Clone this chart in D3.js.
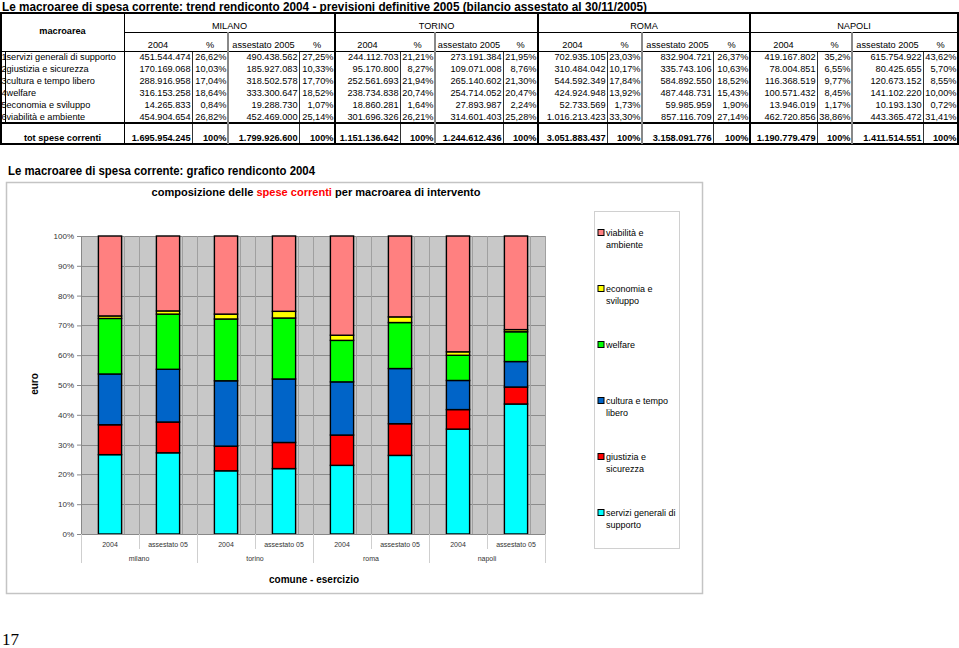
<!DOCTYPE html>
<html><head><meta charset="utf-8">
<script src="https://cdn.jsdelivr.net/npm/d3@7"></script>
<style>
html,body{margin:0;padding:0;background:#fff;}
svg{display:block;font-family:"Liberation Sans",Arial,Helvetica,sans-serif;}
</style></head>
<body>
<svg id="c" width="959" height="648"></svg>
<script>
// ---------- DATA ----------
const macroaree = ["servizi generali di supporto","giustizia e sicurezza","cultura e tempo libero","welfare","economia e sviluppo","viabilità e ambiente"];
const cities = ["MILANO","TORINO","ROMA","NAPOLI"];
const citiesLower = ["milano","torino","roma","napoli"];
const esercizi = ["2004","assestato 05"];
const tableSubHeaders = ["2004","%","assestato 2005","%"];

const milano2004 = [451544474,170169068,288916958,316153258,14265833,454904654];
const milano2005 = [490438562,185927083,318502578,333300647,19288730,452469000];
const torino2004 = [244112703,95170800,252561693,238734838,18860281,301696326];
const torino2005 = [273191384,109071008,265140602,254714052,27893987,314601403];
const roma2004   = [702935105,310484042,544592349,424924948,52733569,1016213423];
const roma2005   = [832904721,335743106,584892550,487448731,59985959,857116709];
const napoli2004 = [419167802,78004851,116368519,100571432,13946019,462720856];
const napoli2005 = [615754922,80425655,120673152,141102220,10193130,443365472];

const milanoPct2004 = ["26,62%","10,03%","17,04%","18,64%","0,84%","26,82%"];
const milanoPct2005 = ["27,25%","10,33%","17,70%","18,52%","1,07%","25,14%"];
const torinoPct2004 = ["21,21%","8,27%","21,94%","20,74%","1,64%","26,21%"];
const torinoPct2005 = ["21,95%","8,76%","21,30%","20,47%","2,24%","25,28%"];
const romaPct2004   = ["23,03%","10,17%","17,84%","13,92%","1,73%","33,30%"];
const romaPct2005   = ["26,37%","10,63%","18,52%","15,43%","1,90%","27,14%"];
const napoliPct2004 = ["35,2%","6,55%","9,77%","8,45%","1,17%","38,86%"];
const napoliPct2005 = ["43,62%","5,70%","8,55%","10,00%","0,72%","31,41%"];

const totali = [1695954245,1799926600,1151136642,1244612436,3051883437,3158091776,1190779479,1411514551];
const yTicks = [0,0.1,0.2,0.3,0.4,0.5,0.6,0.7,0.8,0.9,1];
const colors = ["#00ffff","#ff0000","#0064c8","#00ff00","#ffff00","#ff8080"];

// ---------- helpers ----------
const loc = d3.formatLocale({decimal:",",thousands:".",grouping:[3],currency:["€",""]});
const fmtNum = loc.format(",d");
const fmtPct = loc.format(".0%");
const svg = d3.select("#c");
const FONT = "\"Liberation Sans\",Arial,Helvetica,sans-serif";

function fitText(sel, w){ sel.attr("textLength", w).attr("lengthAdjust","spacingAndGlyphs"); }

// ---------- TOP TITLE ----------
svg.append("text").attr("x",2).attr("y",10.5).attr("font-size",12).attr("font-weight","bold")
  .text("Le macroaree di spesa corrente: trend rendiconto 2004 - previsioni definitive 2005 (bilancio assestato al 30/11/2005)")
  .call(fitText, 645);

// ---------- TABLE ----------
const colEdges = [1,124,192,228,299,335,400,435,503,538,607,642,713,750,817,852,923,958];
const tTop = 13, tH1 = 32, tH2 = 51, rowH = 12, tTotTop = tH2 + rowH*6, tBot = 144;
const T = svg.append("g").attr("font-size",9.2).attr("fill","#000");

const cityData = [
  [milano2004, milanoPct2004, milano2005, milanoPct2005],
  [torino2004, torinoPct2004, torino2005, torinoPct2005],
  [roma2004, romaPct2004, roma2005, romaPct2005],
  [napoli2004, napoliPct2004, napoli2005, napoliPct2005]
];

// header
T.append("text").attr("x",(colEdges[0]+colEdges[1])/2).attr("y",34).attr("text-anchor","middle")
  .attr("font-weight","bold").text("macroarea");
cities.forEach((c,i)=>{
  const x0 = colEdges[1+i*4], x1 = colEdges[5+i*4];
  T.append("text").attr("x",(x0+x1)/2).attr("y",28.5).attr("text-anchor","middle").text(c);
  tableSubHeaders.forEach((h,j)=>{
    const a = colEdges[1+i*4+j], b = colEdges[2+i*4+j];
    T.append("text").attr("x",(a+b)/2).attr("y",48).attr("text-anchor","middle").text(h);
  });
});
// rows
macroaree.forEach((m,r)=>{
  const yb = tH2 + rowH*r + 9.3;
  T.append("text").attr("x",1.5).attr("y",yb).text(r+1);
  T.append("text").attr("x",6.5).attr("y",yb).text(m);
  cityData.forEach((cd,i)=>{
    cd.forEach((arr,j)=>{
      const b = colEdges[2+i*4+j];
      const v = (j%2===0) ? fmtNum(arr[r]) : arr[r];
      T.append("text").attr("x",b-1.5).attr("y",yb).attr("text-anchor","end").text(v);
    });
  });
});
// total row
T.append("text").attr("x",(colEdges[0]+colEdges[1])/2).attr("y",tBot-3.5).attr("text-anchor","middle")
  .attr("font-weight","bold").text("tot spese correnti");
totali.forEach((t,k)=>{
  const i = Math.floor(k/2), j = (k%2)*2;
  const bNum = colEdges[2+i*4+j], bPct = colEdges[3+i*4+j];
  T.append("text").attr("x",bNum-1.5).attr("y",tBot-3.5).attr("text-anchor","end").attr("font-weight","bold").text(fmtNum(t));
  T.append("text").attr("x",bPct-1.5).attr("y",tBot-3.5).attr("text-anchor","end").attr("font-weight","bold").text(fmtPct(1));
});
// lines
const L = svg.append("g").attr("stroke","#000").attr("fill","none").attr("shape-rendering","crispEdges");
L.append("rect").attr("x",colEdges[0]).attr("y",tTop).attr("width",colEdges[17]-colEdges[0]).attr("height",tBot-tTop).attr("stroke-width",1.2);
L.append("line").attr("x1",colEdges[1]).attr("x2",colEdges[17]).attr("y1",tH1).attr("y2",tH1);
L.append("line").attr("x1",colEdges[0]).attr("x2",colEdges[17]).attr("y1",tH2).attr("y2",tH2);
L.append("line").attr("x1",colEdges[0]).attr("x2",colEdges[17]).attr("y1",tTotTop).attr("y2",tTotTop).attr("stroke-width",2);
L.append("line").attr("x1",colEdges[1]).attr("x2",colEdges[1]).attr("y1",tTop).attr("y2",tBot);
L.append("line").attr("x1",5).attr("x2",5).attr("y1",tH2).attr("y2",tTotTop);
cities.forEach((c,i)=>{
  const base = 1+i*4;
  if(i>0) L.append("line").attr("x1",colEdges[base]).attr("x2",colEdges[base]).attr("y1",tTop).attr("y2",tBot).attr("stroke-width",1.2);
  [1,3].forEach(j=>{
    L.append("line").attr("x1",colEdges[base+j]).attr("x2",colEdges[base+j]).attr("y1",tH2).attr("y2",tBot).attr("stroke-width",0.8);
  });
  L.append("line").attr("x1",colEdges[base+2]).attr("x2",colEdges[base+2]).attr("y1",tH1).attr("y2",tBot).attr("stroke","#888").attr("stroke-width",1.5);
});

// ---------- SECTION TITLE ----------
svg.append("text").attr("x",8).attr("y",174.5).attr("font-size",12).attr("font-weight","bold")
  .text("Le macroaree di spesa corrente: grafico rendiconto 2004").call(fitText, 307);

// ---------- CHART FRAME ----------
svg.append("rect").attr("x",6.5).attr("y",182.5).attr("width",696).attr("height",411)
  .attr("fill","none").attr("stroke","#c4c4c4").attr("stroke-width",1.5);

// chart title
const ct = svg.append("text").attr("x",316).attr("y",196).attr("text-anchor","middle")
  .attr("font-size",10.5).attr("font-weight","bold");
ct.append("tspan").text("composizione delle ");
ct.append("tspan").attr("fill","#ff0000").text("spese correnti");
ct.append("tspan").text(" per macroarea di intervento");
ct.call(fitText, 329);

// ---------- BARS ----------
const keys = d3.range(macroaree.length);
const seriesByCat = [milano2004,milano2005,torino2004,torino2005,roma2004,roma2005,napoli2004,napoli2005];
const rows = seriesByCat.map((arr,k)=>{
  const o = {id: citiesLower[Math.floor(k/2)]+"|"+esercizi[k%2], city: citiesLower[Math.floor(k/2)], es: esercizi[k%2]};
  arr.forEach((v,i)=>o[i]=v);
  return o;
});
const stacked = d3.stack().keys(keys).offset(d3.stackOffsetExpand)(rows);

const plotL = 81, plotR = 545, plotT = 236, plotB = 534;
const x = d3.scaleBand().domain(rows.map(r=>r.id)).range([plotL,plotR]).padding(0);
const y = d3.scaleLinear().domain([0,1]).range([plotB,plotT]);
const bw = x.bandwidth()*0.4;

const P = svg.append("g");
P.append("rect").attr("x",plotL).attr("y",plotT).attr("width",plotR-plotL).attr("height",plotB-plotT).attr("fill","#c8c8c8");
// horizontal gridlines
P.append("g").selectAll("line").data(yTicks).join("line")
  .attr("x1",plotL).attr("x2",plotR).attr("y1",d=>Math.round(y(d))+0.5).attr("y2",d=>Math.round(y(d))+0.5)
  .attr("stroke","#8c8c8c").attr("stroke-width",1);
// vertical gridlines: band boundaries and next to each bar
const vlines = [];
rows.forEach(r=>{ vlines.push(x(r.id)); vlines.push(x(r.id)+x.bandwidth()/2+bw/2+2); });
vlines.push(plotR);
P.append("g").selectAll("line").data(vlines).join("line")
  .attr("x1",d=>Math.round(d)+0.5).attr("x2",d=>Math.round(d)+0.5).attr("y1",plotT).attr("y2",plotB)
  .attr("stroke","#a0a0a0").attr("stroke-width",1);

P.append("g").selectAll("g").data(stacked).join("g").attr("fill",(d,i)=>colors[i])
  .selectAll("rect").data(d=>d).join("rect")
  .attr("x",d=>x(d.data.id)+x.bandwidth()/2-bw/2)
  .attr("width",bw)
  .attr("y",d=>y(d[1]))
  .attr("height",d=>y(d[0])-y(d[1]))
  .attr("stroke","#000").attr("stroke-width",1.4);

// axes
const yAxis = d3.axisLeft(y).tickValues(yTicks).tickFormat(d3.format(".0%")).tickSize(4).tickPadding(3);
const ya = svg.append("g").attr("transform",`translate(${plotL},0)`).call(yAxis);
ya.selectAll("text").attr("font-size",8).attr("fill","#333").attr("font-family",FONT);
ya.selectAll("line,path").attr("stroke","#888");

svg.append("line").attr("x1",plotL).attr("x2",plotR).attr("y1",plotB+0.5).attr("y2",plotB+0.5).attr("stroke","#888");

// x labels
const XL = svg.append("g").attr("font-size",7).attr("fill","#333").attr("text-anchor","middle");
rows.forEach(r=>{
  XL.append("text").attr("x",x(r.id)+x.bandwidth()/2).attr("y",546.5).text(r.es);
});
citiesLower.forEach((c,i)=>{
  const a = x(rows[i*2].id), b = x(rows[i*2+1].id)+x.bandwidth();
  XL.append("text").attr("x",(a+b)/2).attr("y",561).text(c);
});
const sep = svg.append("g").attr("stroke","#cfcfcf").attr("stroke-width",1);
rows.forEach((r,k)=>{
  const xx = Math.round(x(r.id))+0.5;
  sep.append("line").attr("x1",xx).attr("x2",xx).attr("y1",plotB).attr("y2",k%2===0?563:549);
});
sep.append("line").attr("x1",plotR+0.5).attr("x2",plotR+0.5).attr("y1",plotB).attr("y2",563);

// axis titles
svg.append("text").attr("transform","translate(38,384) rotate(-90)").attr("text-anchor","middle")
  .attr("font-size",10).attr("font-weight","bold").text("euro");
svg.append("text").attr("x",314).attr("y",583).attr("text-anchor","middle")
  .attr("font-size",10).attr("font-weight","bold").text("comune - esercizio");

// ---------- LEGEND ----------
svg.append("rect").attr("x",594.5).attr("y",211.5).attr("width",85).attr("height",337)
  .attr("fill","#fff").attr("stroke","#d0d0d0");
const legendLines = [["viabilità e","ambiente"],["economia e","sviluppo"],["welfare"],["cultura e tempo","libero"],["giustizia e","sicurezza"],["servizi generali di","supporto"]];
const legendOrder = keys.slice().reverse();
const LG = svg.append("g").attr("font-size",9).attr("fill","#000");
legendOrder.forEach((k,i)=>{
  const cy = 233 + i*56;
  LG.append("rect").attr("x",598).attr("y",cy-3.5).attr("width",6).attr("height",6)
    .attr("fill",colors[k]).attr("stroke","#000").attr("stroke-width",1);
  legendLines[i].forEach((ln,j)=>{
    LG.append("text").attr("x",606).attr("y",cy+3+j*11.5).text(ln);
  });
});

// ---------- PAGE NUMBER ----------
svg.append("text").attr("x",2).attr("y",645).attr("font-size",17)
  .attr("font-family","\"Liberation Serif\",\"Times New Roman\",serif").text("17");
</script>
</body></html>
